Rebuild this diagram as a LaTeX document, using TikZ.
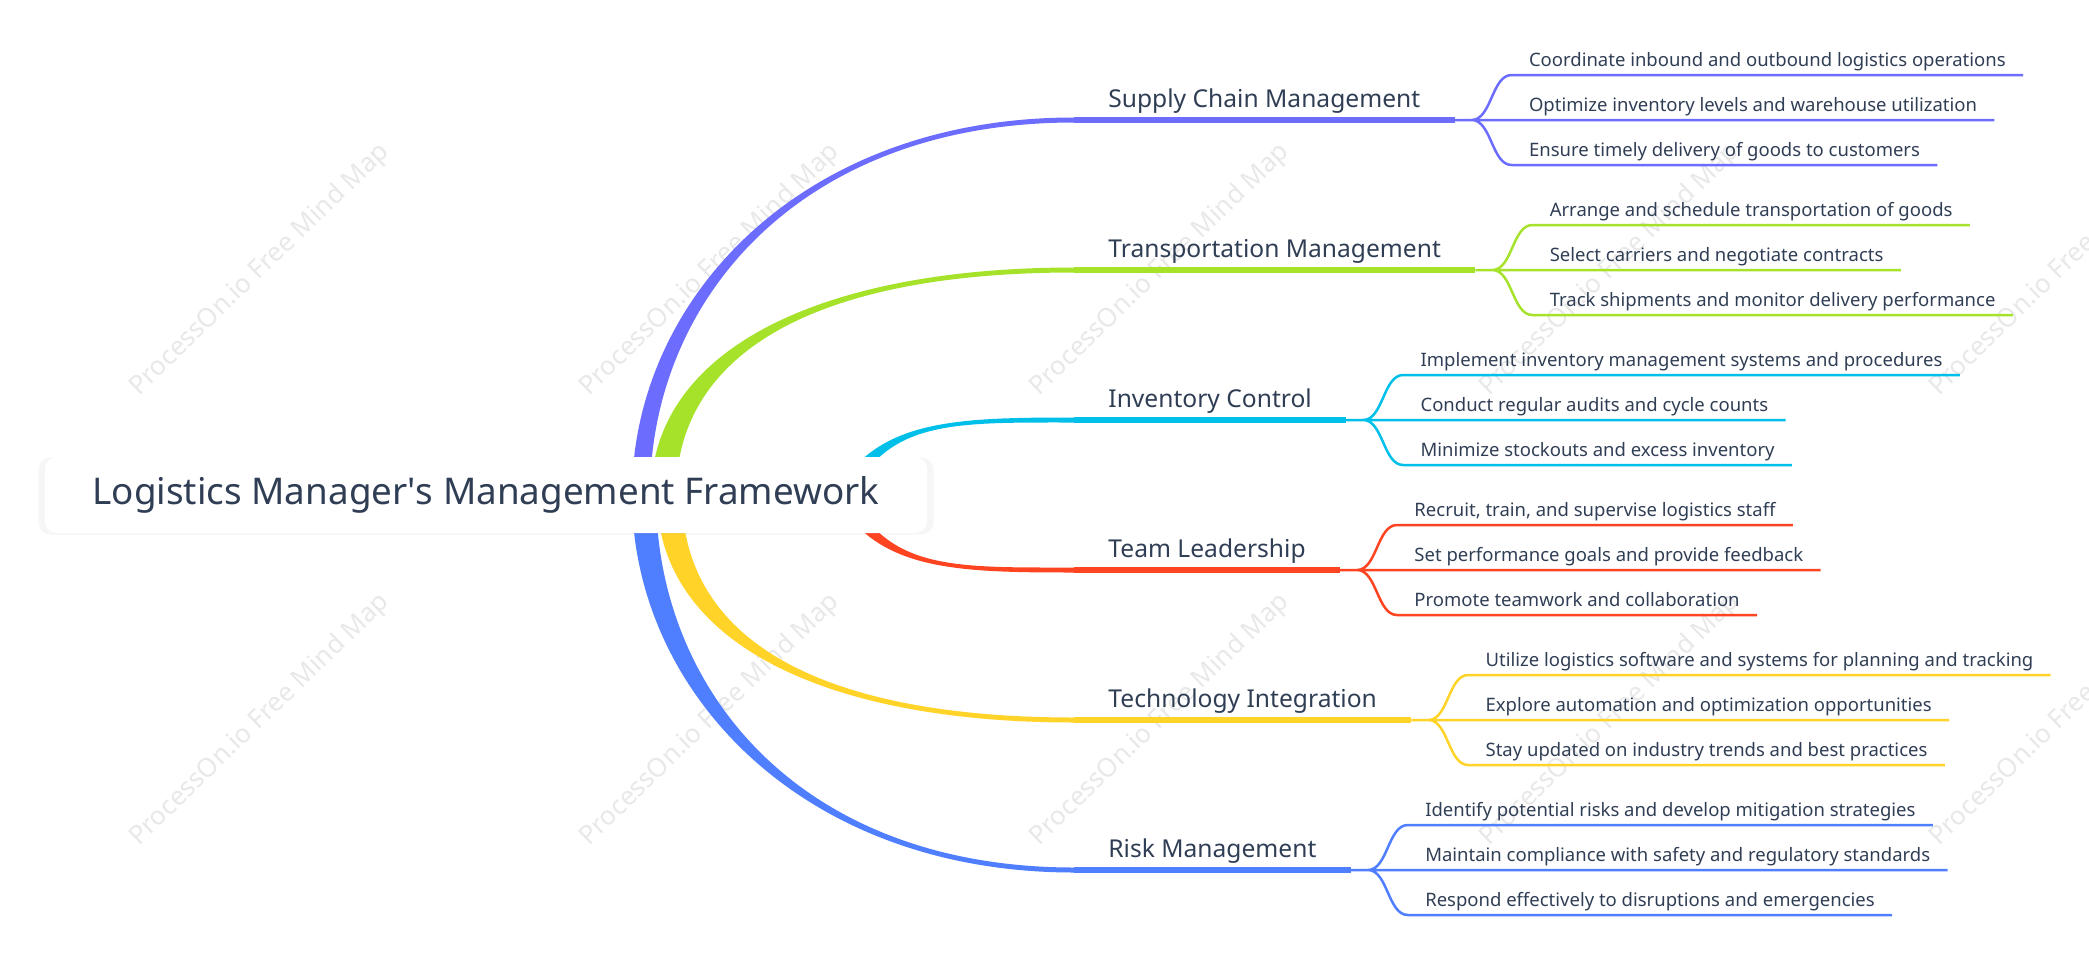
\documentclass[tikz,border=0pt]{standalone}
\usepackage{fontspec}
\setmainfont{Noto Sans}
\usetikzlibrary{positioning,calc,shadows}
\definecolor{ink}{HTML}{303E55}
\definecolor{supply}{HTML}{6C6CFF}
\definecolor{transp}{HTML}{A6E22A}
\definecolor{invent}{HTML}{00BFE9}
\definecolor{team}{HTML}{FF4422}
\definecolor{tech}{HTML}{FFD328}
\definecolor{risk}{HTML}{4F7EFF}
\begin{document}
\begin{tikzpicture}[x=0.5pt,y=-0.5pt,text=ink,font=\fontsize{9.25}{12}\selectfont,
    rootbox/.style={fill=white,rounded corners=6pt,minimum width=441pt,minimum height=38pt,
      font=\fontsize{18.4}{24}\selectfont,general shadow={fill=black,opacity=.035,shadow scale=1.015,shadow yshift=-.5pt}},
    topic/.style={anchor=south west,inner xsep=17pt,inner ysep=0pt,text depth=6pt,font=\fontsize{12.3}{16}\selectfont},
    leaf/.style={anchor=south west,inner xsep=8.5pt,inner ysep=0pt,text depth=4pt},
    mainline/.style={line width=2.6pt},
    subline/.style={line width=1.25pt},
    wmark/.style={text=black!9,rotate=44,font=\fontsize{13}{13}\selectfont}]
    \useasboundingbox (0,0) rectangle (2089,975);
    % watermark
    \foreach \x in {260,710,1160,1610,2060}
      \foreach \y in {270,720}
        \node[wmark] (wm-\x-\y) at (\x,\y) {ProcessOn.io Free Mind Map};
    % topics
    \node[topic] (sc) at (1074,120) {Supply Chain Management};
    \node[topic] (tm) at (1074,270) {Transportation Management};
    \node[topic] (ic) at (1074,420) {Inventory Control};
    \node[topic] (tl) at (1074,570) {Team Leadership};
    \node[topic] (ti) at (1074,720) {Technology Integration};
    \node[topic] (rm) at (1074,870) {Risk Management};
    % tapered branches behind the root
    \fill[supply] (632,495) .. controls (632,300) and (800,117.5) .. ([yshift=1.25pt]sc.south west)
      -- ([yshift=-1.25pt]sc.south west) .. controls (800,122.5) and (650,300) .. (650,495) -- cycle;
    \fill[transp] (651,495) .. controls (651,350) and (820,267.5) .. ([yshift=1.25pt]tm.south west)
      -- ([yshift=-1.25pt]tm.south west) .. controls (820,272.5) and (676,350) .. (676,495) -- cycle;
    \fill[invent] (832,500) .. controls (872,420) and (950,417.5) .. ([yshift=1.25pt]ic.south west)
      -- ([yshift=-1.25pt]ic.south west) .. controls (950,422.5) and (888,420) .. (848,500) -- cycle;
    \fill[team] (832,490) .. controls (872,570) and (950,572.5) .. ([yshift=-1.25pt]tl.south west)
      -- ([yshift=1.25pt]tl.south west) .. controls (950,567.5) and (888,570) .. (848,490) -- cycle;
    \fill[tech] (657,495) .. controls (657,640) and (820,722.5) .. ([yshift=-1.25pt]ti.south west)
      -- ([yshift=1.25pt]ti.south west) .. controls (820,717.5) and (682,640) .. (682,495) -- cycle;
    \fill[risk] (632,495) .. controls (632,690) and (800,872.5) .. ([yshift=-1.25pt]rm.south west)
      -- ([yshift=1.25pt]rm.south west) .. controls (800,867.5) and (656,690) .. (656,495) -- cycle;
    \node[rootbox] (root) at (486,495) {Logistics Manager\textquotesingle s Management Framework};
    % Supply Chain Management
    \coordinate[right=8.5pt of sc.south east] (sc-f);
    \node[leaf] (sc1) at ($(sc-f)+(40,-45)$) {Coordinate inbound and outbound logistics operations};
    \node[leaf] (sc2) at ($(sc-f)+(40,0)$) {Optimize inventory levels and warehouse utilization};
    \node[leaf] (sc3) at ($(sc-f)+(40,45)$) {Ensure timely delivery of goods to customers};
    \draw[supply,mainline] (sc.south west) -- (sc.south east);
    \draw[supply,subline] (sc.south east) -- (sc-f) -- (sc2.south west) -- (sc2.south east)
      (sc-f) .. controls +(20,0) and +(-20,0) .. (sc1.south west) -- (sc1.south east)
      (sc-f) .. controls +(20,0) and +(-20,0) .. (sc3.south west) -- (sc3.south east);
    % Transportation Management
    \coordinate[right=8.5pt of tm.south east] (tm-f);
    \node[leaf] (tm1) at ($(tm-f)+(40,-45)$) {Arrange and schedule transportation of goods};
    \node[leaf] (tm2) at ($(tm-f)+(40,0)$) {Select carriers and negotiate contracts};
    \node[leaf] (tm3) at ($(tm-f)+(40,45)$) {Track shipments and monitor delivery performance};
    \draw[transp,mainline] (tm.south west) -- (tm.south east);
    \draw[transp,subline] (tm.south east) -- (tm-f) -- (tm2.south west) -- (tm2.south east)
      (tm-f) .. controls +(20,0) and +(-20,0) .. (tm1.south west) -- (tm1.south east)
      (tm-f) .. controls +(20,0) and +(-20,0) .. (tm3.south west) -- (tm3.south east);
    % Inventory Control
    \coordinate[right=8.5pt of ic.south east] (ic-f);
    \node[leaf] (ic1) at ($(ic-f)+(40,-45)$) {Implement inventory management systems and procedures};
    \node[leaf] (ic2) at ($(ic-f)+(40,0)$) {Conduct regular audits and cycle counts};
    \node[leaf] (ic3) at ($(ic-f)+(40,45)$) {Minimize stockouts and excess inventory};
    \draw[invent,mainline] (ic.south west) -- (ic.south east);
    \draw[invent,subline] (ic.south east) -- (ic-f) -- (ic2.south west) -- (ic2.south east)
      (ic-f) .. controls +(20,0) and +(-20,0) .. (ic1.south west) -- (ic1.south east)
      (ic-f) .. controls +(20,0) and +(-20,0) .. (ic3.south west) -- (ic3.south east);
    % Team Leadership
    \coordinate[right=8.5pt of tl.south east] (tl-f);
    \node[leaf] (tl1) at ($(tl-f)+(40,-45)$) {Recruit, train, and supervise logistics staff};
    \node[leaf] (tl2) at ($(tl-f)+(40,0)$) {Set performance goals and provide feedback};
    \node[leaf] (tl3) at ($(tl-f)+(40,45)$) {Promote teamwork and collaboration};
    \draw[team,mainline] (tl.south west) -- (tl.south east);
    \draw[team,subline] (tl.south east) -- (tl-f) -- (tl2.south west) -- (tl2.south east)
      (tl-f) .. controls +(20,0) and +(-20,0) .. (tl1.south west) -- (tl1.south east)
      (tl-f) .. controls +(20,0) and +(-20,0) .. (tl3.south west) -- (tl3.south east);
    % Technology Integration
    \coordinate[right=8.5pt of ti.south east] (ti-f);
    \node[leaf] (ti1) at ($(ti-f)+(40,-45)$) {Utilize logistics software and systems for planning and tracking};
    \node[leaf] (ti2) at ($(ti-f)+(40,0)$) {Explore automation and optimization opportunities};
    \node[leaf] (ti3) at ($(ti-f)+(40,45)$) {Stay updated on industry trends and best practices};
    \draw[tech,mainline] (ti.south west) -- (ti.south east);
    \draw[tech,subline] (ti.south east) -- (ti-f) -- (ti2.south west) -- (ti2.south east)
      (ti-f) .. controls +(20,0) and +(-20,0) .. (ti1.south west) -- (ti1.south east)
      (ti-f) .. controls +(20,0) and +(-20,0) .. (ti3.south west) -- (ti3.south east);
    % Risk Management
    \coordinate[right=8.5pt of rm.south east] (rm-f);
    \node[leaf] (rm1) at ($(rm-f)+(40,-45)$) {Identify potential risks and develop mitigation strategies};
    \node[leaf] (rm2) at ($(rm-f)+(40,0)$) {Maintain compliance with safety and regulatory standards};
    \node[leaf] (rm3) at ($(rm-f)+(40,45)$) {Respond effectively to disruptions and emergencies};
    \draw[risk,mainline] (rm.south west) -- (rm.south east);
    \draw[risk,subline] (rm.south east) -- (rm-f) -- (rm2.south west) -- (rm2.south east)
      (rm-f) .. controls +(20,0) and +(-20,0) .. (rm1.south west) -- (rm1.south east)
      (rm-f) .. controls +(20,0) and +(-20,0) .. (rm3.south west) -- (rm3.south east);
\end{tikzpicture}
\end{document}
